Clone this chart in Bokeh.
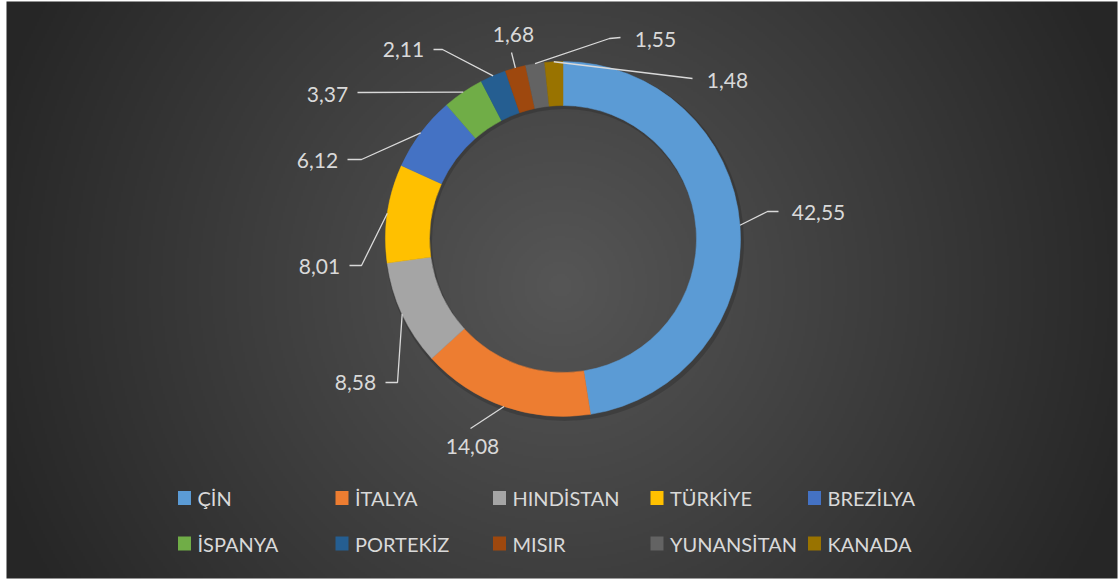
import numpy as np
from bokeh.plotting import figure
from bokeh.models import Range1d, ColumnDataSource
from bokeh.core.properties import value
from bokeh.embed import file_html
from bokeh.resources import INLINE

# ---- data ----
countries = ["ÇİN", "İTALYA", "HINDİSTAN", "TÜRKİYE", "BREZİLYA",
             "İSPANYA", "PORTEKİZ", "MISIR", "YUNANSİTAN", "KANADA"]
values = [42.55, 14.08, 8.58, 8.01, 6.12, 3.37, 2.11, 1.68, 1.55, 1.48]
value_labels = ["42,55", "14,08", "8,58", "8,01", "6,12",
                "3,37", "2,11", "1,68", "1,55", "1,48"]
colors = ["#5B9BD5", "#ED7D31", "#A5A5A5", "#FFC000", "#4472C4",
          "#70AD47", "#255E91", "#9E480E", "#636363", "#997300"]

# ---- layout (pixel coordinates, y measured from top) ----
W, H = 1120, 581
CX, CY = 562.5, 238.5
R_IN, R_OUT = 133.5, 177.5
label_pos = [(818, 212), (472, 446), (355, 382), (319, 266), (317, 160),
             (327, 94), (403, 49), (513, 34), (655, 39), (727, 80)]
elbows = [[(767, 211), (778, 211)],
          [(470, 428)],
          [(397, 382), (385, 382)],
          [(361, 265), (349, 265)],
          [(361, 159), (347, 159)],
          [(357, 92)],
          [(442, 49), (433, 49)],
          [(511, 52)],
          [(609, 38), (620, 37)],
          [(692, 78)]]
legend_marker_x = [184, 341.5, 499, 656.5, 814]
legend_text_x = [197, 354.5, 512, 669.5, 827]
legend_row_y = [497.5, 543]


def Y(y):
    return H - y


p = figure(width=W, height=H, x_range=Range1d(0, W), y_range=Range1d(0, H),
           output_backend="svg", toolbar_location=None, min_border=0)
p.axis.visible = False
p.grid.visible = False
p.outline_line_color = None
p.background_fill_color = "white"
p.border_fill_color = "white"

# ---- background radial gradient ----
x0, x1, y0, y1 = 6, 1117, 1, 578
nx, ny = 556, 289
gx = np.linspace(x0, x1, nx)
gy = np.linspace(Y(y1), Y(y0), ny)
XX, YY = np.meshgrid(gx, gy)
r = np.hypot(XX - 560, YY - Y(285))
d = np.clip(r / 600.0, 0, 1)
v = (86 - 48 * d).astype(np.uint8)
img = np.empty((ny, nx), dtype=np.uint32)
view = img.view(dtype=np.uint8).reshape((ny, nx, 4))
view[..., 0] = v
view[..., 1] = v
view[..., 2] = v
view[..., 3] = 255
p.image_rgba(image=[img], x=x0, y=Y(y1), dw=x1 - x0, dh=y1 - y0)

# ---- donut ----
total = sum(values)
cum = np.cumsum([0] + values)
a_start = np.pi / 2 - 2 * np.pi * cum[:-1] / total
a_end = np.pi / 2 - 2 * np.pi * cum[1:] / total

# soft shadow
p.annulus(x=CX + 1.5, y=Y(CY + 2.5), inner_radius=R_IN - 1, outer_radius=R_OUT + 2,
          fill_color="black", fill_alpha=0.16, line_color=None)

src = ColumnDataSource(dict(start=list(a_end), end=list(a_start), color=colors))
p.annular_wedge(x=CX, y=Y(CY), inner_radius=R_IN, outer_radius=R_OUT,
                start_angle="start", end_angle="end", fill_color="color",
                line_color="color", line_width=0.5, source=src)

# ---- leader lines ----
mid = (a_start + a_end) / 2
lx, ly = [], []
for i in range(len(values)):
    ax = CX + R_OUT * np.cos(mid[i])
    ay = Y(CY) + R_OUT * np.sin(mid[i])
    xs = [ax] + [e[0] for e in elbows[i]]
    ys = [ay] + [Y(e[1]) for e in elbows[i]]
    lx.append(xs)
    ly.append(ys)
p.multi_line(xs=lx, ys=ly, line_color="#D9D9D9", line_width=1.3)

# ---- value labels ----
p.text(x=[q[0] for q in label_pos], y=[Y(q[1]) for q in label_pos], text=value_labels,
       text_font=value("Lato"), text_font_size="21px", text_color="#D9D9D9",
       text_align="center", text_baseline="middle")

# ---- legend ----
mx, my, tx, ty = [], [], [], []
for i in range(len(countries)):
    row, col = divmod(i, 5)
    mx.append(legend_marker_x[col])
    tx.append(legend_text_x[col])
    my.append(Y(legend_row_y[row]))
    ty.append(Y(legend_row_y[row]))
p.rect(x=mx, y=my, width=13, height=14, fill_color=colors, line_color=None)
p.text(x=tx, y=ty, text=countries, text_font=value("Lato"), text_font_size="20px",
       text_color="#D9D9D9", text_align="left", text_baseline="middle")

open("out.html", "w").write(file_html(p, INLINE))
